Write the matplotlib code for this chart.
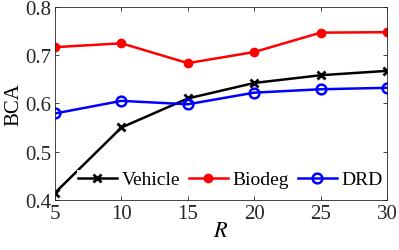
import matplotlib.pyplot as plt

R = [5, 10, 15, 20, 25, 30]
vehicle = [0.415, 0.550, 0.610, 0.642, 0.658, 0.667]
biodeg = [0.716, 0.724, 0.683, 0.706, 0.746, 0.747]
drd = [0.579, 0.605, 0.598, 0.622, 0.629, 0.632]

plt.rcParams['font.family'] = ['Liberation Serif', 'DejaVu Serif']
plt.rcParams['mathtext.fontset'] = 'stix'

fig = plt.figure(figsize=(3.99, 2.51), dpi=100)
ax = fig.add_axes([0.138, 0.199, 0.832, 0.771])

ax.plot(R, vehicle, '-x', color='black', lw=1.8, ms=6, mew=2, label='Vehicle')
ax.plot(R, biodeg, '-o', color='red', lw=1.8, ms=6, label='Biodeg')
ax.plot(R, drd, '-o', color='blue', lw=1.8, ms=7, mew=1.8, mfc='none', label='DRD')

ax.set_xlim(5, 30)
ax.set_ylim(0.4, 0.8)
ax.set_xticks(R)
ax.set_yticks([0.4, 0.5, 0.6, 0.7, 0.8])
ax.set_yticklabels(['0.4', '0.5', '0.6', '0.7', '0.8'])
ax.tick_params(direction='in', labelsize=15, length=3, width=0.6, top=True, right=True,
               colors='#262626', pad=3)
for s in ax.spines.values():
    s.set_linewidth(0.6)
    s.set_color('#262626')
ax.set_xlabel('$R$', fontsize=16, labelpad=-1)
ax.set_ylabel('BCA', fontsize=15, labelpad=1)

leg = ax.legend(loc='lower right', bbox_to_anchor=(0.99, 0.055), ncol=3, fontsize=14,
                frameon=True, fancybox=False, edgecolor='none', facecolor='white',
                framealpha=1, handlelength=2.0, handletextpad=0.25, columnspacing=0.45,
                borderpad=0.05, borderaxespad=0)

fig.savefig('out.png', dpi=100)
